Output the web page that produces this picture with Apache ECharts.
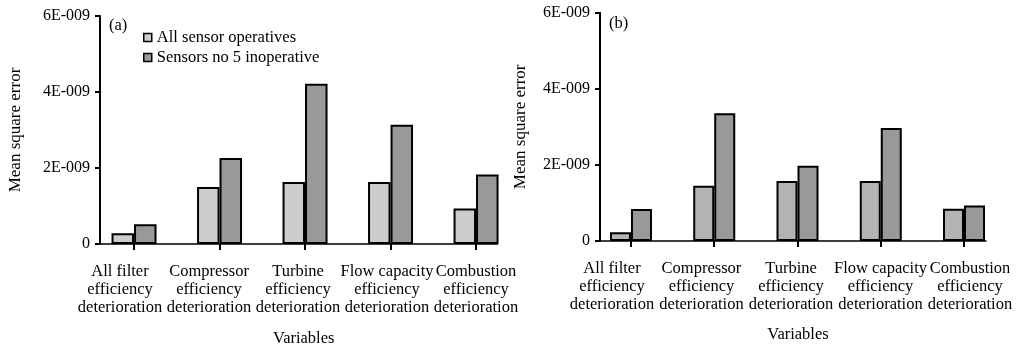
<!DOCTYPE html>
<html><head><meta charset="utf-8">
<script src="https://cdn.jsdelivr.net/npm/echarts@6/dist/echarts.min.js"></script>
<style>html,body{margin:0;padding:0;background:#fff}#c{width:1016px;height:352px}</style>
</head><body><div id="c"></div>
<script>
// ---- data ----
const categories = [
  'All filter\nefficiency\ndeterioration',
  'Compressor\nefficiency\ndeterioration',
  'Turbine\nefficiency\ndeterioration',
  'Flow capacity\nefficiency\ndeterioration',
  'Combustion\nefficiency\ndeterioration'
];
const seriesNames = ['All sensor operatives', 'Sensors no 5 inoperative'];
const panelA_allOperative = [0.28e-9, 1.50e-9, 1.63e-9, 1.63e-9, 0.935e-9];
const panelA_sensor5Inop  = [0.52e-9, 2.26e-9, 4.22e-9, 3.14e-9, 1.83e-9];
const panelB_allOperative = [0.23e-9, 1.45e-9, 1.58e-9, 1.58e-9, 0.85e-9];
const panelB_sensor5Inop  = [0.84e-9, 3.36e-9, 1.98e-9, 2.97e-9, 0.93e-9];
const yTickValues = [0, 2e-9, 4e-9, 6e-9];
const panelLabels = ['(a)', '(b)'];
const yAxisTitle = 'Mean square error';
const xAxisTitle = 'Variables';

// ---- styling / layout ----
const FONT = 'Liberation Serif';
const idx = categories.map((_, i) => i);
function yFmt(v) { return v === 0 ? '0' : Math.round(v * 1e9) + 'E-009'; }

const panels = [
  { grid: {left: 100, top: 16, width: 397.5, height: 229},
    barMin: -0.398, barMax: 4.251, labMin: -0.2247, labMax: 4.2416,
    barW: 22.5, light: '#cdcdcd', dark: '#999999',
    vals: [panelA_allOperative, panelA_sensor5Inop], nameGapX: 86, nameGapY: 76, titleDy: 1 },
  { grid: {left: 600, top: 12.7, width: 386, height: 228.3},
    barMin: -0.372, barMax: 4.264, labMin: -0.134, labMax: 4.179,
    barW: 21, light: '#b3b3b3', dark: '#999999',
    vals: [panelB_allOperative, panelB_sensor5Inop], nameGapX: 85, nameGapY: 71, titleDy: 2 }
];

const grids = [], xAxes = [], yAxes = [], series = [], titles = [];
panels.forEach((p, g) => {
  grids.push(p.grid);
  // axis carrying the bars, ticks and the axis line
  xAxes.push({
    gridIndex: g, type: 'value', position: 'bottom',
    min: p.barMin, max: p.barMax,
    axisLine: {show: true, onZero: false, lineStyle: {color: '#000', width: 1.5}},
    axisTick: {show: true, customValues: idx, length: 6, inside: false, lineStyle: {color: '#000', width: 2}},
    axisLabel: {show: false},
    splitLine: {show: false},
    name: xAxisTitle, nameLocation: 'middle', nameGap: p.nameGapX,
    nameTextStyle: {fontFamily: FONT, fontSize: 16.5, color: '#000', padding: [0, 0, 0, 10]}
  });
  // axis carrying the category labels
  xAxes.push({
    gridIndex: g, type: 'value', position: 'bottom',
    min: p.labMin, max: p.labMax,
    axisLine: {show: false, onZero: false}, axisTick: {show: false},
    splitLine: {show: false},
    axisLabel: {
      customValues: idx, margin: 19,
      formatter: v => categories[Math.round(v)] || '',
      fontFamily: FONT, fontSize: 16.5, lineHeight: 18, color: '#000', align: 'center'
    }
  });
  yAxes.push({
    gridIndex: g, type: 'value', min: 0, max: 6e-9, interval: 2e-9,
    axisLine: {show: true, onZero: false, lineStyle: {color: '#000', width: 2}},
    axisTick: {show: true, length: 5, lineStyle: {color: '#000', width: 2}},
    splitLine: {show: false},
    axisLabel: {formatter: yFmt, fontFamily: FONT, fontSize: 16, color: '#000', margin: 10},
    name: yAxisTitle, nameLocation: 'middle', nameRotate: 90, nameGap: p.nameGapY,
    nameTextStyle: {fontFamily: FONT, fontSize: 17, color: '#000'}
  });
  [p.light, p.dark].forEach((col, s) => {
    series.push({
      type: 'bar', name: seriesNames[s],
      xAxisIndex: g * 2, yAxisIndex: g,
      barWidth: p.barW, barGap: '0%',
      data: p.vals[s].map((v, i) => [i, v]),
      itemStyle: {color: col, borderColor: '#000', borderWidth: 2},
      emphasis: {disabled: true},
      animation: false
    });
  });
  titles.push({
    text: panelLabels[g], left: p.grid.left + 9, top: p.grid.top + p.titleDy, padding: 0,
    textStyle: {fontFamily: FONT, fontSize: 16.5, fontWeight: 'normal', color: '#000'}
  });
});

const chart = echarts.init(document.getElementById('c'), null, {renderer: 'canvas'});
chart.setOption({
  animation: false,
  backgroundColor: '#fff',
  textStyle: {fontFamily: FONT},
  title: titles,
  legend: {
    data: seriesNames.map(n => ({name: n, icon: 'rect'})), orient: 'vertical', left: 143, top: 29, padding: 0,
    itemWidth: 8, itemHeight: 8, itemGap: 3,
    itemStyle: {borderColor: '#000', borderWidth: 1.5},
    textStyle: {fontFamily: FONT, fontSize: 16.5, color: '#000'},
    selectedMode: false
  },
  grid: grids, xAxis: xAxes, yAxis: yAxes, series: series
});
</script></body></html>
